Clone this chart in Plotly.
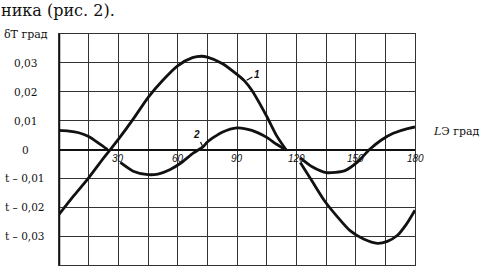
import plotly.graph_objects as go

# Curve 1 (two drawn segments, broken near the "120" label)
c1_x = [0, 7.5, 15, 22.5, 30, 37.5, 45, 52.5, 60, 67.5, 72, 75, 82.5, 90, 94, 97.5, 105, 110, 115,
        None,
        122, 128, 134.5, 141, 147, 154, 161, 166, 171, 175.5, 180]
c1_y = [-0.0225, -0.016, -0.0098, -0.003, 0.0035, 0.0105, 0.018, 0.024, 0.029, 0.0318, 0.0323, 0.032,
        0.0298, 0.026, 0.0236, 0.0205, 0.0115, 0.0048, -0.0003,
        None,
        -0.0045, -0.011, -0.018, -0.0235, -0.028, -0.031, -0.0325, -0.0318, -0.0298, -0.026, -0.021]

# Curve 2 (three drawn segments, broken near the "30" and "120" labels)
c2_x = [0, 5, 10, 15, 20, 24.5,
        None,
        31, 37.5, 45, 50, 56, 62, 68, 72.8, 75, 82.5, 90, 97.5, 105, 110, 114.5,
        None,
        122, 128, 135, 144.6, 151, 157, 163, 169, 175, 180]
c2_y = [0.0066, 0.0064, 0.0058, 0.0045, 0.0022, 0.0,
        None,
        -0.0045, -0.0075, -0.0087, -0.0085, -0.007, -0.0045, -0.0012, 0.0009, 0.0026, 0.006, 0.0075,
        0.0066, 0.0042, 0.0018, 0.0,
        None,
        -0.0029, -0.006, -0.008, -0.0073, -0.0043, 0.0, 0.0033, 0.0056, 0.007, 0.0078]

x_ticks = [30, 60, 90, 120, 150, 180]
x_tick_text = ["30", "60", "90", "120", "150", "180"]
y_ticks = [0.03, 0.02, 0.01, 0, -0.01, -0.02, -0.03]
y_tick_text = ["0,03", "0,02", "0,01", "0", "t – 0,01", "t – 0,02", "t – 0,03"]

INK = "#111111"
GRID = "#333333"
SERIF = "DejaVu Serif"
SANS = "Liberation Sans, Arial, sans-serif"

fig = go.Figure()
fig.add_trace(go.Scatter(x=c1_x, y=c1_y, mode="lines", connectgaps=False,
                         line=dict(color=INK, width=2.8, shape="spline", smoothing=0.7),
                         showlegend=False, hoverinfo="skip"))
fig.add_trace(go.Scatter(x=c2_x, y=c2_y, mode="lines", connectgaps=False,
                         line=dict(color=INK, width=2.8, shape="spline", smoothing=0.7),
                         showlegend=False, hoverinfo="skip"))

W, H = 485, 268
L, R, T, B = 59, 70, 34, 3
pw = W - L - R
ph = H - T - B

def px_to_paper_x(px):
    return (px - L) / pw

def px_to_paper_y(py):
    return (H - B - py) / ph

ann = []
for v, t in zip(y_ticks, y_tick_text):
    ann.append(dict(x=px_to_paper_x(25), xref="paper", y=v, yref="y", text=t,
                    showarrow=False, xanchor="center", yanchor="middle",
                    font=dict(family=SERIF, size=10.5, color=INK)))
for v, t in zip(x_ticks, x_tick_text):
    ann.append(dict(x=v, xref="x", y=0, yref="y", text="<i>" + t + "</i>",
                    showarrow=False, xanchor="center", yanchor="top", yshift=-1,
                    font=dict(family=SANS, size=10, color=INK)))
ann.append(dict(x=px_to_paper_x(26), xref="paper", y=px_to_paper_y(35), yref="paper",
                text="δT град", showarrow=False, xanchor="center", yanchor="middle",
                font=dict(family=SERIF, size=11, color=INK)))
ann.append(dict(x=px_to_paper_x(431), xref="paper", y=px_to_paper_y(131), yref="paper",
                text="<i>L</i>Э град", showarrow=False, xanchor="left", yanchor="middle",
                font=dict(family=SERIF, size=11, color=INK)))
ann.append(dict(x=px_to_paper_x(-1), xref="paper", y=px_to_paper_y(11), yref="paper",
                text="ника (рис. 2).", showarrow=False, xanchor="left", yanchor="middle",
                font=dict(family=SERIF, size=16, color=INK)))
ann.append(dict(x=c1_x[14], y=c1_y[14], xref="x", yref="y", text="<i><b>1</b></i>",
                showarrow=True, arrowhead=0, arrowwidth=1.2, arrowcolor=INK, ax=12, ay=-7,
                standoff=2, font=dict(family=SANS, size=10, color=INK)))
ann.append(dict(x=c2_x[14], y=c2_y[14], xref="x", yref="y", text="<i><b>2</b></i>",
                showarrow=True, arrowhead=0, arrowwidth=1.2, arrowcolor=INK, ax=-6, ay=-12,
                standoff=1, font=dict(family=SANS, size=10, color=INK)))

fig.update_layout(
    width=W, height=H,
    margin=dict(l=L, r=R, t=T, b=B, pad=0),
    paper_bgcolor="white", plot_bgcolor="white",
    annotations=ann,
    xaxis=dict(range=[0, 180], dtick=15, tick0=0, showticklabels=False, ticks="",
               showgrid=True, gridcolor=GRID, gridwidth=1.2,
               zeroline=False, showline=True, mirror=True, linecolor=GRID, linewidth=1.3,
               fixedrange=True),
    yaxis=dict(range=[-0.04, 0.04], dtick=0.01, tick0=0, showticklabels=False, ticks="",
               showgrid=True, gridcolor=GRID, gridwidth=1.2,
               zeroline=True, zerolinecolor=INK, zerolinewidth=2,
               showline=True, mirror=True, linecolor=GRID, linewidth=1.3,
               fixedrange=True),
    shapes=[dict(type="line", xref="x", yref="paper", x0=0, x1=0, y0=0, y1=1,
                 line=dict(color=INK, width=2.5))],
)

fig.write_html("out.html", config={"displayModeBar": False},
               post_script="document.body.style.margin='0';document.documentElement.style.overflow='hidden';")
